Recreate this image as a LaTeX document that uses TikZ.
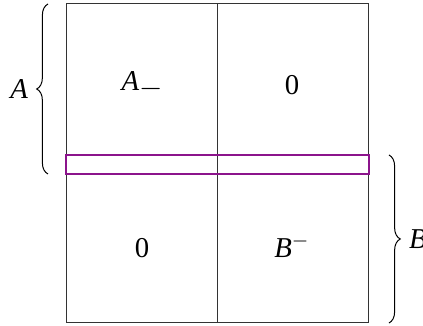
\documentclass[tikz,border=0pt]{standalone}
\usepackage{amsmath, amssymb}
\usepackage{xcolor}
\usepackage{fontspec}
\setmainfont{Liberation Serif}
\usetikzlibrary{decorations.pathreplacing}

\definecolor{rowpurple}{RGB}{140,20,140}

\newcommand{\mvar}[1]{\textit{#1}}

\tikzset{
	cellbox/.style={draw=black!80, line width=0.4pt},
	rowbox/.style={draw=rowpurple, line width=0.8pt},
	bracelabel/.style={decorate, decoration={brace, amplitude=4.5pt}, line width=0.4pt},
	every node/.style={font=\fontsize{11.5}{14}\selectfont},
}

\begin{document}
\begin{tikzpicture}[x=0.4pt,y=-0.4pt]
	\useasboundingbox (0,0) rectangle (423,326);

	% Khung va duong giua
	\draw[cellbox] (66.5,4) rectangle (369,323);
	\draw[cellbox] (217.5,4) -- (217.5,323);

	% Hang tim
	\draw[rowbox] (66.5,155) rectangle (369,174);

	% Noi dung cac o
	\node (am) at (142,85) {\mvar{A}\raisebox{-2.4pt}{$-$}};
	\node (za) at (292,85) {0};
	\node (zb) at (142,248) {0};
	\node (bm) at (292,246) {\mvar{B}$^{-}$};

	% Ngoac
	\coordinate (abot) at (48,174);
	\coordinate (atop) at (48,4);
	\draw[bracelabel] (abot) -- (atop) node[midway, left=4.5pt] (la) {\mvar{A}};

	\coordinate (btop) at (389,155);
	\coordinate (bbot) at (389,323);
	\draw[bracelabel] (btop) -- (bbot) node[midway, right=4.5pt] (lb) {\mvar{B}};
\end{tikzpicture}
\end{document}
